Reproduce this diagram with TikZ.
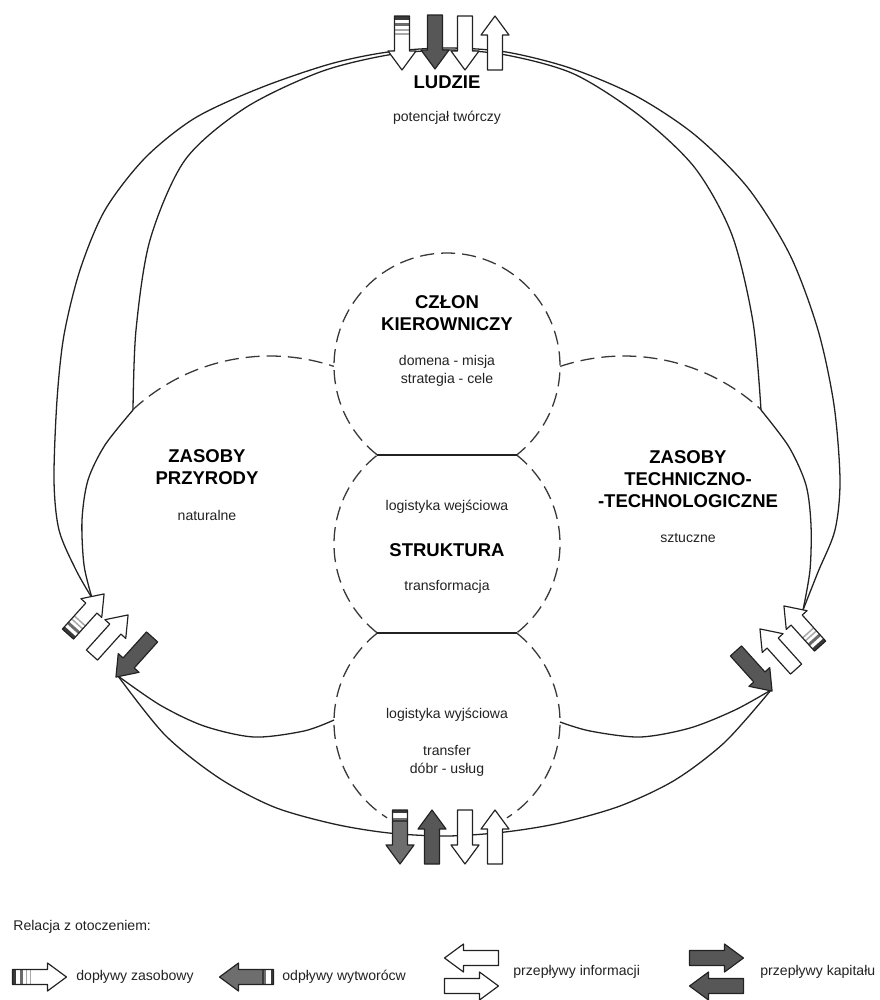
\documentclass[tikz,border=0pt]{standalone}
\usepackage{fontspec}
\setmainfont{Liberation Sans}
\usetikzlibrary{positioning}
\usepackage{xcolor}
\definecolor{Ink}{HTML}{222222}
\definecolor{Capital}{HTML}{575757}
\definecolor{Outflow}{HTML}{6E6E6E}
\definecolor{StripeDark}{HTML}{3A3A3A}
\definecolor{StripeLight}{HTML}{A8A8A8}
\newcommand{\flowpath}{(-27,-7.5) -- (8,-7.5) -- (8,-14) -- (27,0) -- (8,14) -- (8,7.5) -- (-27,7.5) -- cycle}

\begin{document}
\begin{tikzpicture}[
      x=0.03cm, y=-0.03cm,
      every node/.style={font=\fontsize{12}{15}\selectfont, text=Ink, inner sep=1pt},
      headtext/.style={font=\fontsize{15.8}{19}\selectfont\bfseries, text=black},
      solidline/.style={draw=Ink, line width=1.1pt},
      dashline/.style={draw=Ink!90, line width=1.1pt, dash pattern=on 12pt off 6pt},
      outline/.style={draw=Ink, line width=1pt, line join=round},
      pics/flow/.style={code={\filldraw[fill=#1, outline] \flowpath;}},
      pics/zin/.style={code={
        \fill[white] \flowpath;
        \fill[StripeDark] (-27,-7.5) rectangle (-23.5,7.5);
        \fill[StripeDark!75] (-20,-7.5) rectangle (-17,7.5);
        \fill[StripeLight] (-14,-7.5) rectangle (-12.5,7.5);
        \fill[StripeLight] (-10,-7.5) rectangle (-8.5,7.5);
        \draw[outline] \flowpath;}},
      pics/zout/.style={code={
        \fill[Outflow] \flowpath;
        \fill[StripeDark] (-27,-7.5) rectangle (-24,7.5);
        \fill[white] (-24,-7.5) rectangle (-19,7.5);
        \fill[StripeDark] (-17,-7.5) rectangle (-15.5,7.5);
        \draw[outline] \flowpath;}}
    ]
    \useasboundingbox (0,0) rectangle (880,1000);

    % outer and inner rims
    \draw[solidline] plot[smooth] coordinates {(92,598) (76,570) (59,530) (54,480) (57,400) (64,335) (80,270) (105,210) (145,158) (195,118) (260,88) (330,64) (388,52) (447,48) (506,52) (570,68) (636,96) (695,135) (748,188) (790,255) (818,330) (834,405) (840,480) (835,530) (818,572) (803,610)};
    \draw[solidline] plot[smooth] coordinates {(133,410) (136,330) (150,240) (185,160) (245,108) (320,72) (388,55) (447,50) (506,55) (574,74) (640,116) (695,168) (732,235) (753,322) (761,410)};
    \draw[solidline] plot[smooth] coordinates {(133,410) (105,445) (88,480) (82,520) (84,565) (92,598)};
    \draw[solidline] plot[smooth] coordinates {(761,410) (789,447) (806,485) (811,525) (810,570) (803,610)};
    \draw[solidline] plot[smooth] coordinates {(118,676) (165,735) (219,778) (274,807) (334,824) (389,833) (447,836) (505,832) (560,823) (620,806) (675,780) (725,742) (771,690)};
    \draw[solidline] plot[smooth] coordinates {(118,676) (160,705) (204,726) (254,737) (304,731) (334,720)};
    \draw[solidline] plot[smooth] coordinates {(560,722) (590,731) (640,737) (690,728) (735,710) (771,690)};

    % dashed borders
    \draw[dashline] (270,558) ++(227.2:202) arc[start angle=227.2, end angle=288.4, radius=202];
    \draw[dashline] (624,558) ++(251.6:202) arc[start angle=251.6, end angle=312.8, radius=202];
    \draw[dashline] (447,366) ++(128:113) arc[start angle=128, end angle=412, radius=113];
    \draw[dashline] (447,544) ++(128:113) arc[start angle=128, end angle=232, radius=113];
    \draw[dashline] (447,544) ++(-52:113) arc[start angle=-52, end angle=52, radius=113];
    \draw[dashline] (447,722) ++(232:113) arc[start angle=232, end angle=122, radius=113];
    \draw[dashline] (447,722) ++(-52:113) arc[start angle=-52, end angle=58, radius=113];
    \draw[solidline] (377.4,455) -- (516.6,455);
    \draw[solidline] (377.4,633) -- (516.6,633);

    % top
    \pic[rotate=-90] at (402,43) {zin};
    \pic[rotate=-90] at (435,42) {flow=Capital};
    \pic[rotate=-90] at (465,43) {flow=white};
    \pic[rotate=90] at (495,43) {flow=white};
    % left
    \pic[rotate=48] at (86,614) {zin};
    \pic[rotate=48] at (110,635) {flow=white};
    \pic[rotate=-132] at (134,657) {flow=Capital};
    % right
    \pic[rotate=132] at (802,626) {zin};
    \pic[rotate=132] at (778,649) {flow=white};
    \pic[rotate=-48] at (754,671) {flow=Capital};
    % bottom
    \pic[rotate=-90] at (400,837) {zout};
    \pic[rotate=90] at (432,837) {flow=Capital};
    \pic[rotate=-90] at (465,837) {flow=white};
    \pic[rotate=90] at (495,837) {flow=white};

    \node[headtext] (ludzie) at (447,82) {LUDZIE};
    \node (ludzieSub) at (447,118) {potencjał twórczy};
    \node[headtext, align=center] (czlon) at (447,313) {CZŁON\\KIEROWNICZY};
    \node[align=center] (czlonSub) at (447,371) {domena - misja\\strategia - cele};
    \node (wejscie) at (447,507) {logistyka wejściowa};
    \node[headtext] (struktura) at (447,550) {STRUKTURA};
    \node (transform) at (447,587) {transformacja};
    \node (wyjscie) at (447,715) {logistyka wyjściowa};
    \node[align=center] (transfer) at (447,761) {transfer\\dóbr - usług};
    \node[headtext, align=center] (przyroda) at (207,467) {ZASOBY\\PRZYRODY};
    \node (naturalne) at (207,515) {naturalne};
    \node[headtext, align=center] (techno) at (688,479) {ZASOBY\\TECHNICZNO-\\-TECHNOLOGICZNE};
    \node (sztuczne) at (688,538) {sztuczne};

    % legend
    \node[anchor=west] (legTitle) at (12,927) {Relacja z otoczeniem:};
    \pic at (39.5,977) {zin};
    \node[anchor=west] (legIn) at (75,977) {dopływy zasobowy};
    \pic[rotate=180] at (246.5,977) {zout};
    \node[anchor=west] (legOut) at (281,977) {odpływy wytworócw};
    \pic[rotate=180] at (471.5,958) {flow=white};
    \pic at (471.5,986) {flow=white};
    \node[anchor=west] (legInfo) at (512,972) {przepływy informacji};
    \pic at (716.5,958) {flow=Capital};
    \pic[rotate=180] at (716.5,986) {flow=Capital};
    \node[anchor=west] (legCap) at (759,972) {przepływy kapitału};
  \end{tikzpicture}
\end{document}
